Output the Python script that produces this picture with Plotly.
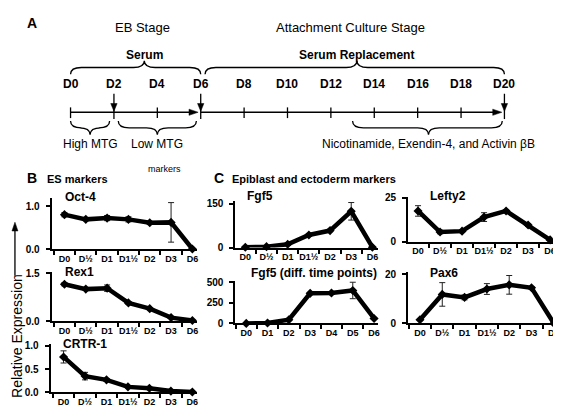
import plotly.graph_objects as go

W, H = 561, 408

# ---------------- data ----------------
b_days = ["D0", "D½", "D1", "D1½", "D2", "D3", "D6"]
fgf5_diff_days = ["D0", "D1", "D2", "D3", "D4", "D5", "D6"]

oct4 = [0.81, 0.70, 0.73, 0.70, 0.62, 0.63, 0.01]
oct4_err = [0.05, 0.03, 0.06, 0.06, 0.03, 0.46, 0.0]
rex1 = [1.16, 1.01, 1.04, 0.58, 0.40, 0.12, 0.03]
rex1_err = [0.05, 0.04, 0.10, 0.04, 0.03, 0.02, 0.01]
crtr1 = [0.76, 0.35, 0.27, 0.12, 0.09, 0.03, 0.01]
crtr1_err = [0.13, 0.08, 0.03, 0.02, 0.02, 0.01, 0.0]
fgf5 = [1, 3, 11, 43, 58, 124, 1]
fgf5_err = [0.5, 1, 3, 5, 4, 30, 0]
fgf5_diff = [0, 5, 45, 365, 370, 400, 60]
fgf5_diff_err = [0, 0, 5, 10, 15, 100, 5]
lefty2 = [17.5, 5.5, 6.0, 14.0, 17.5, 9.5, 1.0]
lefty2_err = [3, 1, 0.5, 2.5, 0.5, 0.8, 0.2]
pax6 = [1.5, 11.8, 10.6, 14.0, 15.7, 14.5, 0.0]
pax6_err = [0.3, 4.8, 1.0, 2.2, 3.8, 0.5, 0.0]

# timeline (panel A)
timeline_days = list(range(0, 21, 2))
timeline_labels = [f"D{d}" for d in timeline_days]
tick_days = [0, 4, 8, 10, 12, 14, 16, 18]
arrow_days = [2, 6, 20]
top_braces = [(0.0, 6.0, 3.4, "Serum"), (6.2, 20.0, 13.2, "Serum Replacement")]
bottom_braces = [(0.0, 1.8, 0.9, "High MTG"), (2.2, 5.8, 4.0, "Low MTG"),
                 (13.0, 19.9, 16.5, "Nicotinamide, Exendin-4, and Activin βB")]

FONT = "Liberation Sans, Arial, sans-serif"


def px_x(x):
    return x / W


def px_y(y):
    return 1 - y / H


charts = [
    # name, cats, values, errs, xdom px, ydom px(top,bottom), xrange, yrange, yticks, yticktext, title pos
    ("Oct-4", b_days, oct4, oct4_err, (44, 190), (190, 243), [-0.6, 6.2], [0, 1.2], [0, 1], ["0.0", "1.0"], (55, 189)),
    ("Rex1", b_days, rex1, rex1_err, (44, 190), (266, 317), [-0.6, 6.2], [0, 1.55], [0, 1.5], ["0.0", "1.5"], (55, 266)),
    ("CRTR-1", b_days, crtr1, crtr1_err, (43, 190), (340, 390), [-0.6, 6.2], [0, 1.04], [0, 0.5, 1], ["0.0", "0.5", "1.0"], (53, 340)),
    ("Fgf5", b_days, fgf5, fgf5_err, (229, 373), (193, 241), [-0.47, 6.28], [0, 160], [0, 150], ["0", "150"], (239, 188)),
    ("Fgf5 (diff. time points)", fgf5_diff_days, fgf5_diff, fgf5_diff_err, (229, 373), (275, 319), [-0.51, 6.2], [0, 520], [0, 250, 500], ["0", "250", "500"], (243, 267)),
    ("Lefty2", b_days, lefty2, lefty2_err, (403, 550), (189, 235), [-0.45, 6.18], [0, 25.5], [0, 25], ["0", "25"], (423, 188)),
    ("Pax6", b_days, pax6, pax6_err, (403, 552), (266, 319), [-0.53, 6.1], [0, 21], [0, 20], ["0", "20"], (423, 267)),
]

fig = go.Figure()
layout = dict(
    width=W, height=H, margin=dict(l=0, r=0, t=0, b=0),
    paper_bgcolor="white", plot_bgcolor="rgba(0,0,0,0)",
    showlegend=False, font=dict(family=FONT, color="black"),
)
annotations = []
shapes = []

for i, (name, cats, vals, errs, xd, yd, xr, yr, yt, ytt, tpos) in enumerate(charts, start=1):
    xa = "x" if i == 1 else f"x{i}"
    ya = "y" if i == 1 else f"y{i}"
    fig.add_trace(go.Scatter(
        x=list(range(len(cats))), y=vals, xaxis=xa, yaxis=ya,
        mode="lines+markers",
        line=dict(color="black", width=4.5),
        marker=dict(symbol="diamond", size=7, color="black"),
        error_y=dict(type="data", array=errs, visible=True, color="#222", thickness=1, width=3),
        cliponaxis=False,
    ))
    xk = "xaxis" if i == 1 else f"xaxis{i}"
    yk = "yaxis" if i == 1 else f"yaxis{i}"
    layout[xk] = dict(
        domain=[px_x(xd[0]), px_x(xd[1])], anchor=ya, range=xr,
        tickmode="array", tickvals=list(range(len(cats))), ticktext=cats,
        ticks="", showgrid=False, zeroline=False,
        showline=True, linecolor="black", linewidth=2,
        tickfont=dict(family=FONT, size=9, color="black", weight="bold"),
        minor=dict(ticks="outside", tick0=0.5, dtick=1, ticklen=4, tickcolor="black", tickwidth=1.5),
        fixedrange=True,
    )
    layout[yk] = dict(
        domain=[px_y(yd[1]), px_y(yd[0])], anchor=xa, range=yr,
        tickmode="array", tickvals=yt, ticktext=ytt,
        ticks="outside", ticklen=4, tickcolor="black", tickwidth=1.5,
        showgrid=False, zeroline=False,
        showline=True, linecolor="black", linewidth=2,
        tickfont=dict(family=FONT, size=10, color="black", weight="bold"),
        ticklabelstandoff=4,
        fixedrange=True,
    )
    annotations.append(dict(
        x=px_x(tpos[0]), y=px_y(tpos[1]), xref="paper", yref="paper",
        text=f"<b>{name}</b>", showarrow=False, xanchor="left", yanchor="middle",
        font=dict(family=FONT, size=12, color="black"),
    ))

# ---------------- panel A timeline axis (days x pixel-rows) ----------------
D0_PX, PX_PER_DAY = 63.0, 21.85
fig.add_trace(go.Scatter(x=[None], y=[None], xaxis="x8", yaxis="y8", hoverinfo="skip"))
layout["xaxis8"] = dict(domain=[0, 1], anchor="y8", visible=False, fixedrange=True,
                        range=[-D0_PX / PX_PER_DAY, (W - D0_PX) / PX_PER_DAY])
layout["yaxis8"] = dict(domain=[0, 1], anchor="x8", visible=False, fixedrange=True,
                        range=[H, 0])

LINE_Y = 102
ref = dict(xref="x8", yref="y8")
ah = 3.2 / PX_PER_DAY  # arrowhead half width in days

# main line segments with right-pointing arrowheads
for d0, d1 in [(0, 6), (6, 20)]:
    shapes.append(dict(type="line", x0=d0, x1=d1 - 0.3, y0=LINE_Y, y1=LINE_Y,
                       line=dict(color="black", width=1.3), **ref))
    tip = d1 - 0.12
    shapes.append(dict(type="path",
                       path=f"M {tip - 0.42},{LINE_Y - 3.2} L {tip - 0.42},{LINE_Y + 3.2} L {tip},{LINE_Y} Z",
                       fillcolor="black", line=dict(color="black", width=0.5), **ref))

# tick marks
for d in tick_days:
    shapes.append(dict(type="line", x0=d, x1=d, y0=LINE_Y - 5, y1=LINE_Y + 6,
                       line=dict(color="black", width=1.3), **ref))

# downward arrows
for d in arrow_days:
    shapes.append(dict(type="line", x0=d, x1=d, y0=83, y1=LINE_Y + 7,
                       line=dict(color="black", width=1.3), **ref))
    shapes.append(dict(type="path",
                       path=f"M {d - ah},{LINE_Y - 9} L {d + ah},{LINE_Y - 9} L {d},{LINE_Y - 1} Z",
                       fillcolor="black", line=dict(color="black", width=0.5), **ref))

# day labels
for d, lab in zip(timeline_days, timeline_labels):
    annotations.append(dict(x=d, y=73, text=f"<b>{lab}</b>", showarrow=False,
                            font=dict(family=FONT, size=12, color="black"), **ref))


def brace(x0, x1, xc, y_end, y_mid, y_tip):
    r = 0.5
    return (f"M {x0},{y_end} Q {x0},{y_mid} {x0 + r},{y_mid} "
            f"L {xc - r},{y_mid} Q {xc},{y_mid} {xc},{y_tip} "
            f"Q {xc},{y_mid} {xc + r},{y_mid} "
            f"L {x1 - r},{y_mid} Q {x1},{y_mid} {x1},{y_end}")


for x0, x1, xc, lab in top_braces:
    shapes.append(dict(type="path", path=brace(x0, x1, xc, 63, 56, 49),
                       line=dict(color="black", width=1.3), **ref))
    annotations.append(dict(x=xc, y=43, text=f"<b>{lab}</b>", showarrow=False,
                            font=dict(family=FONT, size=12, color="black"), **ref))

for x0, x1, xc, lab in bottom_braces:
    shapes.append(dict(type="path", path=brace(x0, x1, xc, 111, 118, 125),
                       line=dict(color="black", width=1.3), **ref))
    annotations.append(dict(x=xc, y=135, text=lab, showarrow=False,
                            font=dict(family=FONT, size=12, color="black"), **ref))

# ---------------- panel texts ----------------
def txt(x, y, text, size, xanchor="left", bold=True, angle=0):
    annotations.append(dict(
        x=px_x(x), y=px_y(y), xref="paper", yref="paper",
        text=f"<b>{text}</b>" if bold else text, showarrow=False,
        xanchor=xanchor, yanchor="middle", textangle=angle,
        font=dict(family=FONT, size=size, color="black"),
    ))


txt(17, 10, "A", 14)
txt(135, 15, "EB Stage", 13, xanchor="center", bold=False)
txt(345, 15, "Attachment Culture Stage", 13, xanchor="center", bold=False)
txt(158, 160, "markers", 9, xanchor="center", bold=False)
txt(17, 170, "B", 14)
txt(37, 171, "ES markers", 11)
txt(205, 170, "C", 14)
txt(224, 171, "Epiblast and ectoderm markers", 11)
txt(9, 332, "Relative Expression", 14, xanchor="center", bold=False, angle=-90)

# arrow above y label
shapes.append(dict(type="line", xref="paper", yref="paper",
                   x0=px_x(7), x1=px_x(7), y0=px_y(270), y1=px_y(222),
                   line=dict(color="black", width=1.3)))
shapes.append(dict(type="path", xref="paper", yref="paper",
                   path=f"M {px_x(4)},{px_y(224)} L {px_x(10)},{px_y(224)} L {px_x(7)},{px_y(215)} Z",
                   fillcolor="black", line=dict(color="black", width=0.5)))

layout["annotations"] = annotations
layout["shapes"] = shapes
fig.update_layout(**layout)
fig.write_html("out.html")
